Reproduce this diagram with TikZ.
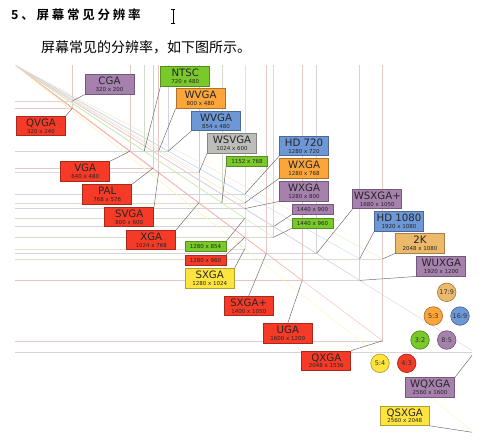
\documentclass[tikz,border=0pt]{standalone}
\usepackage{fontspec}
\setmainfont{DejaVu Sans}
\newfontfamily\cjk{Noto Sans CJK SC}
\newfontfamily\cjkbold{Noto Sans CJK SC Bold}[LetterSpace=22]
\definecolor{scrred}{HTML}{F53B27}
\definecolor{scrpurple}{HTML}{A681AE}
\definecolor{scrgreen}{HTML}{79C92B}
\definecolor{scrorange}{HTML}{FBA53A}
\definecolor{scrblue}{HTML}{6D97D5}
\definecolor{scrgrey}{HTML}{BDBDBA}
\definecolor{scryellow}{HTML}{FDE43F}
\definecolor{scrtan}{HTML}{ECB86A}
\tikzset{
	scrbox/.style={draw=#1!70!black,fill=#1,line width=0.7pt,minimum width=49pt,minimum height=19.5pt,inner sep=0pt,align=center,text=black!85,font=\fontsize{10.2}{8}\selectfont},
	minibox/.style={draw=#1!70!black,fill=#1,line width=0.7pt,minimum width=41pt,minimum height=10pt,inner sep=0pt,text=black!85,font=\fontsize{5.5}{6}\selectfont},
	ratio/.style={circle,draw=#1!70!black,fill=#1,line width=0.7pt,minimum size=18.5pt,inner sep=0pt,text=black!80,font=\fontsize{6.5}{7}\selectfont},
	leader/.style={draw=black!60,line width=0.45pt},
	bgline/.style={line width=0.45pt}
}
\newcommand\scrname[2]{#1\\[-1.2pt]{\fontsize{5.5}{6}\selectfont #2}}
\begin{document}
\begin{tikzpicture}[x=1pt,y=-1pt]
	\useasboundingbox (0,0) rectangle (495,440);
	% heading
	\node[anchor=west,inner sep=0pt] (title) at (11,15) {\fontsize{12.5}{13}\cjkbold 5、屏幕常见分辨率};
	\node[anchor=west,inner sep=0pt] (intro) at (41,47) {\fontsize{14}{14}\cjk 屏幕常见的分辨率，如下图所示。};
	\draw[line width=0.8pt] (171,9) -- (175,9) (173,9) -- (173,23) (171,23) -- (175,23);
	% faint frames of every resolution
	\begin{scope}
		\clip (15,65) rectangle (472,431);
		\begin{scope}[shift={(15,65)},x=0.1795pt,y=-0.1795pt]
			\foreach \w/\h/\c in {320/200/scrpurple,320/240/scrred,640/480/scrred,720/480/scrgreen,
				800/480/scrorange,854/480/scrblue,768/576/scrred,800/600/scrred,1024/600/scrgrey,
				1024/768/scrred,1152/768/scrgreen,1280/720/scrblue,1280/768/scrorange,1280/800/scrpurple,
				1280/854/scrgreen,1280/960/scrred,1280/1024/scryellow,1440/900/scrpurple,1440/960/scrgreen,
				1400/1050/scrred,1680/1050/scrpurple,1920/1080/scrblue,2048/1080/scrtan,1920/1200/scrpurple,
				1600/1200/scrred,2048/1536/scrred,2560/1600/scrpurple,2560/2048/scryellow}{
				\draw[bgline,\c!60!black!25] (\w,0) |- (0,\h);
				\draw[bgline,\c!35] (0,0) -- (\w,\h);
				\coordinate (r\w-\h) at (\w,\h);
			}
		\end{scope}
	\end{scope}
	% boxes
	\node[scrbox=scrpurple] (cga) at (109.5,84.5) {\scrname{CGA}{320 x 200}};
	\node[scrbox=scrred] (qvga) at (41,126) {\scrname{QVGA}{320 x 240}};
	\node[scrbox=scrgreen] (ntsc) at (185.3,76.3) {\scrname{NTSC}{720 x 480}};
	\node[scrbox=scrorange] (wvgaa) at (200.5,98.3) {\scrname{WVGA}{800 x 480}};
	\node[scrbox=scrblue] (wvgab) at (216,121) {\scrname{WVGA}{854 x 480}};
	\node[scrbox=scrgrey] (wsvga) at (232,143.3) {\scrname{WSVGA}{1024 x 600}};
	\node[minibox=scrgreen] (m1152) at (247,161) {1152 x 768};
	\node[scrbox=scrblue] (hdsev) at (304,146) {\scrname{HD 720}{1280 x 720}};
	\node[scrbox=scrorange] (wxgaa) at (304,168.3) {\scrname{WXGA}{1280 x 768}};
	\node[scrbox=scrpurple] (wxgab) at (304,191.3) {\scrname{WXGA}{1280 x 800}};
	\node[minibox=scrpurple] (m1440a) at (312.5,209.3) {1440 x 900};
	\node[minibox=scrgreen] (m1440b) at (312.5,223) {1440 x 960};
	\node[scrbox=scrpurple] (wsxga) at (377.3,199) {\scrname{WSXGA+}{1680 x 1050}};
	\node[scrbox=scrblue] (hdten) at (399,221.3) {\scrname{HD 1080}{1920 x 1080}};
	\node[scrbox=scrtan] (twok) at (420,243.3) {\scrname{2K}{2048 x 1080}};
	\node[scrbox=scrpurple] (wuxga) at (441.3,266.3) {\scrname{WUXGA}{1920 x 1200}};
	\node[scrbox=scrred] (vga) at (85.2,171.3) {\scrname{VGA}{640 x 480}};
	\node[scrbox=scrred] (pal) at (107.2,194.3) {\scrname{PAL}{768 x 576}};
	\node[scrbox=scrred] (svga) at (129.2,217) {\scrname{SVGA}{800 x 600}};
	\node[scrbox=scrred] (xga) at (151.2,240) {\scrname{XGA}{1024 x 768}};
	\node[minibox=scrgreen] (m854) at (205.5,246.5) {1280 x 854};
	\node[minibox=scrred] (m960) at (205.5,260) {1280 x 960};
	\node[scrbox=scryellow] (sxga) at (209.7,278.3) {\scrname{SXGA}{1280 x 1024}};
	\node[scrbox=scrred] (sxgap) at (248.7,306) {\scrname{SXGA+}{1400 x 1050}};
	\node[scrbox=scrred] (uga) at (287.8,333.2) {\scrname{UGA}{1600 x 1200}};
	\node[scrbox=scrred] (qxga) at (326.3,360.7) {\scrname{QXGA}{2048 x 1536}};
	\node[scrbox=scrpurple] (wqxga) at (430,387.5) {\scrname{WQXGA}{2560 x 1600}};
	\node[scrbox=scryellow] (qsxga) at (404.7,415.7) {\scrname{QSXGA}{2560 x 2048}};
	% aspect ratios
	\node[ratio=scrtan] (r179) at (446.7,292.3) {17:9};
	\node[ratio=scrorange] (r53) at (433.3,316) {5:3};
	\node[ratio=scrblue] (r169) at (460,316) {16:9};
	\node[ratio=scrgreen] (r32) at (420,340) {3:2};
	\node[ratio=scrpurple] (r85) at (446.7,340) {8:5};
	\node[ratio=scryellow] (r54) at (380,363.3) {5:4};
	\node[ratio=scrred] (r43) at (406.7,363.3) {4:3};
	% leaders
	\begin{scope}
		\clip (15,65) rectangle (472,440);
		\draw[leader] (cga.south west) -- (r320-200);
		\draw[leader] (qvga.north east) -- (r320-240);
		\draw[leader] (ntsc.south west) -- (r720-480);
		\draw[leader] (wvgaa.south west) -- (r800-480);
		\draw[leader] (wvgab.south west) -- (r854-480);
		\draw[leader] (wsvga.south west) -- (r1024-600);
		\draw[leader] (m1152.south west) -- (r1152-768);
		\draw[leader] (hdsev.south west) -- (r1280-720);
		\draw[leader] (wxgaa.south west) -- (r1280-768);
		\draw[leader] (wxgab.south west) -- (r1280-800);
		\draw[leader] (m1440a.south west) -- (r1440-900);
		\draw[leader] (m1440b.south west) -- (r1440-960);
		\draw[leader] (wsxga.south west) -- (r1680-1050);
		\draw[leader] (hdten.south west) -- (r1920-1080);
		\draw[leader] (twok.south west) -- (r2048-1080);
		\draw[leader] (wuxga.south west) -- (r1920-1200);
		\draw[leader] (vga.north east) -- (r640-480);
		\draw[leader] (pal.north east) -- (r768-576);
		\draw[leader] (svga.north east) -- (r800-600);
		\draw[leader] (xga.north east) -- (r1024-768);
		\draw[leader] (m854.north east) -- (r1280-854);
		\draw[leader] (m960.north east) -- (r1280-960);
		\draw[leader] (sxga.north east) -- (r1280-1024);
		\draw[leader] (sxgap.north) -- (r1400-1050);
		\draw[leader] (uga.north) -- (r1600-1200);
		\draw[leader] (qxga.north east) -- (r2048-1536);
		\draw[leader] (wqxga.north east) -- (r2560-1600);
		\draw[leader] (qsxga.south east) -- (r2560-2048);
	\end{scope}
\end{tikzpicture}
\end{document}
